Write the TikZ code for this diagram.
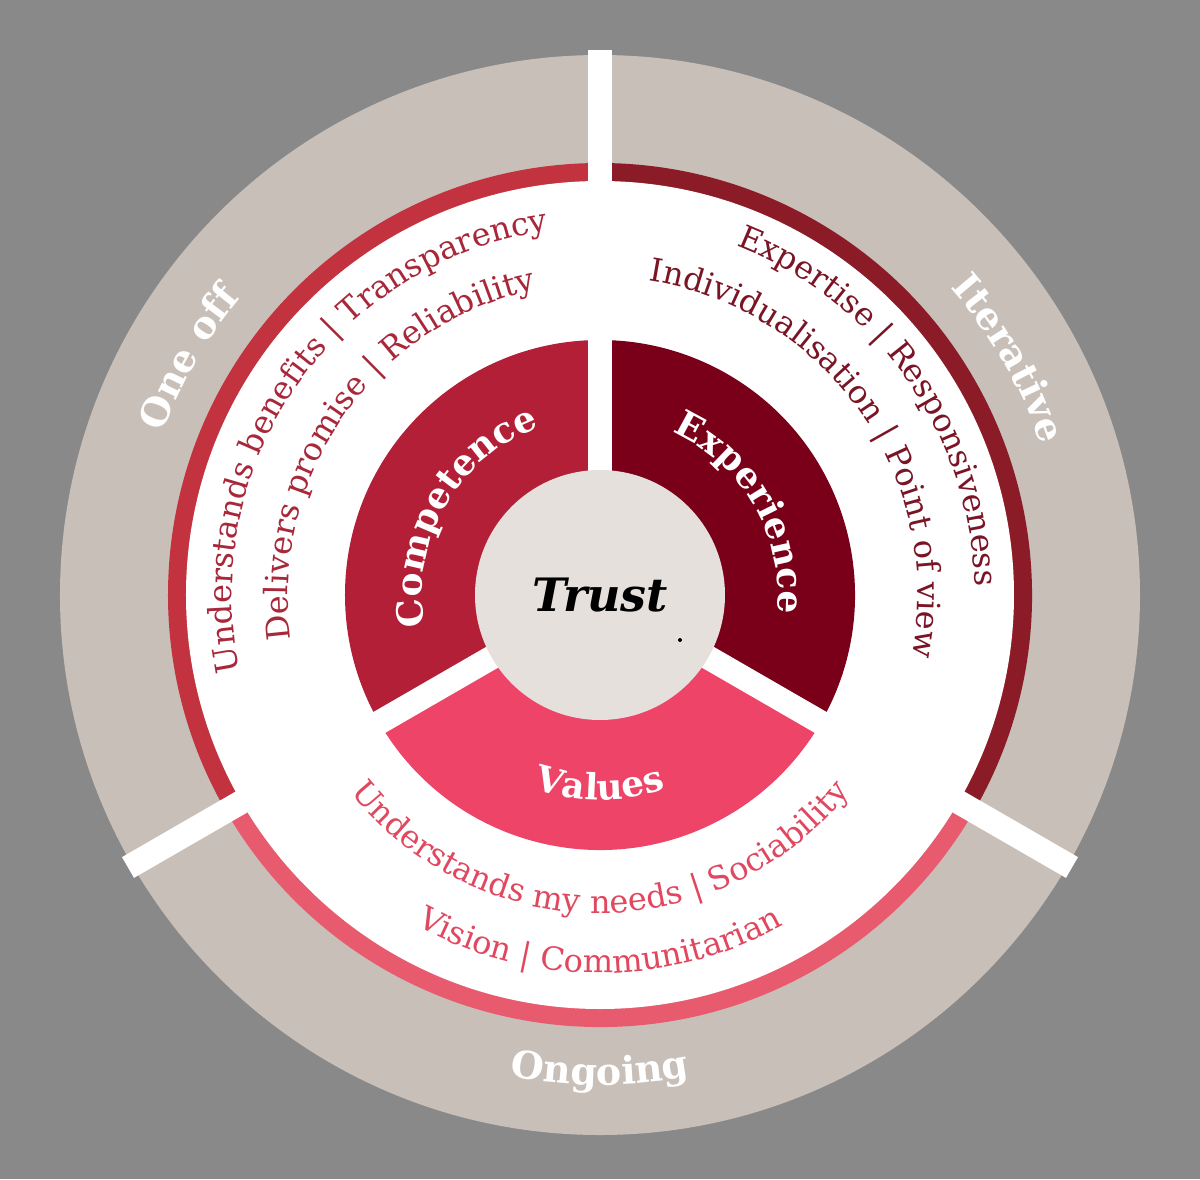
\documentclass[tikz,border=0pt]{standalone}
\usepackage{fontspec}
\setmainfont{DejaVu Serif}
\usetikzlibrary{decorations.text}
\definecolor{bg}{HTML}{898989}
\definecolor{ringc}{HTML}{C9BFB9}
\definecolor{compc}{HTML}{B31F36}
\definecolor{expc}{HTML}{7A0019}
\definecolor{valc}{HTML}{EE4467}
\definecolor{trustc}{HTML}{E5E0DB}
\definecolor{lring}{HTML}{C2323F}
\definecolor{rring}{HTML}{8C1B28}
\definecolor{bring}{HTML}{E85A6E}
\definecolor{ltext}{HTML}{A8283A}
\definecolor{rtext}{HTML}{7A1525}
\definecolor{btext}{HTML}{E04860}
\tikzset{
  arctext/.style n args={2}{decorate,decoration={text along path,text format delimiters={[}{]},text align=center,text color=#1,text={#2}}},
  gapline/.style={white,line width=24pt}
}
\begin{document}
\begin{tikzpicture}[x=1pt,y=1pt]
\useasboundingbox (-600,-584) rectangle (600,595);
\fill[bg] (-600,-584) rectangle (600,595);
\fill[ringc] (0,0) circle (540);
\fill[lring] (0,0) -- (90:432) arc[start angle=90,end angle=210,radius=432] -- cycle;
\fill[rring] (0,0) -- (-30:432) arc[start angle=-30,end angle=90,radius=432] -- cycle;
\fill[bring] (0,0) -- (210:432) arc[start angle=210,end angle=330,radius=432] -- cycle;
\fill[white] (0,0) circle (414);
\fill[compc] (0,0) -- (90:255) arc[start angle=90,end angle=210,radius=255] -- cycle;
\fill[expc] (0,0) -- (-30:255) arc[start angle=-30,end angle=90,radius=255] -- cycle;
\fill[valc] (0,0) -- (210:255) arc[start angle=210,end angle=330,radius=255] -- cycle;
\coordinate (c) at (0,0);
\foreach \a/\n in {90/g1,210/g2,-30/g3}{
  \coordinate (\n a) at (\a:120);
  \coordinate (\n b) at (\a:545);
  \draw[gapline] (\n a) -- (\n b);
}
\node[circle,fill=trustc,minimum size=250pt,inner sep=0pt] (trust) at (c) {\fontsize{46}{50}\selectfont\bfseries\itshape Trust};
\fill (80,-45) circle (2);
% ring labels
\path[arctext={white}{[\fontsize{38}{40}\selectfont\bfseries]One off}] (c) ++(172:466) arc[start angle=172,end angle=128,radius=466];
\path[arctext={white}{[\fontsize{38}{40}\selectfont\bfseries]Iterative}] (c) ++(55:466) arc[start angle=55,end angle=5,radius=466];
\path[arctext={white}{[\fontsize{38}{40}\selectfont\bfseries]Ongoing}] (c) ++(255:490) arc[start angle=255,end angle=285,radius=490];
% segment labels
\path[arctext={white}{[\fontsize{36}{40}\selectfont\bfseries]Competence}] (c) ++(200:178) arc[start angle=200,end angle=100,radius=178];
\path[arctext={white}{[\fontsize{36}{40}\selectfont\bfseries]Experience}] (c) ++(80:178) arc[start angle=80,end angle=-20,radius=178];
\path[arctext={white}{[\fontsize{36}{40}\selectfont\bfseries]Values}] (c) ++(240:205) arc[start angle=240,end angle=300,radius=205];
% left texts
\path[arctext={ltext}{[\fontsize{32}{34}\selectfont]Understands benefits | Transparency}] (c) ++(215:368) arc[start angle=215,end angle=75,radius=368];
\path[arctext={ltext}{[\fontsize{32}{34}\selectfont]Delivers promise | Reliability}] (c) ++(215:312) arc[start angle=215,end angle=75,radius=312];
% right texts
\path[arctext={rtext}{[\fontsize{32}{34}\selectfont]Expertise | Responsiveness}] (c) ++(105:375) arc[start angle=105,end angle=-35,radius=375];
\path[arctext={rtext}{[\fontsize{32}{34}\selectfont]Individualisation | Point of view}] (c) ++(105:318) arc[start angle=105,end angle=-35,radius=318];
% bottom texts
\path[arctext={btext}{[\fontsize{32}{34}\selectfont]Understands my needs | Sociability}] (c) ++(200:318) arc[start angle=200,end angle=340,radius=318];
\path[arctext={btext}{[\fontsize{32}{34}\selectfont]Vision | Communitarian}] (c) ++(220:378) arc[start angle=220,end angle=320,radius=378];
\end{tikzpicture}
\end{document}
